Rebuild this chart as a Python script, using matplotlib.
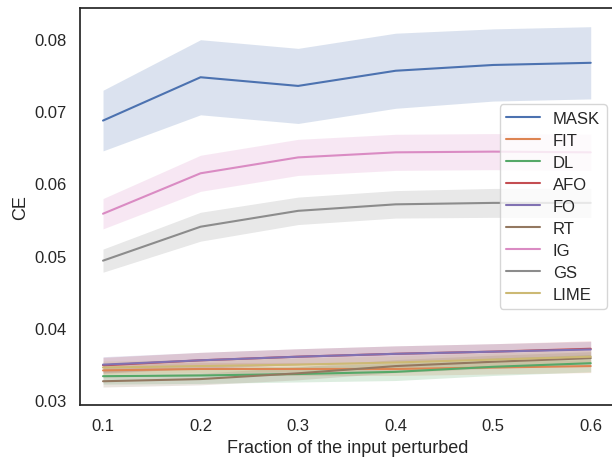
import matplotlib
matplotlib.use("Agg")
import matplotlib.pyplot as plt
import seaborn as sns
import numpy as np

fractions = [0.1, 0.2, 0.3, 0.4, 0.5, 0.6]
methods = ["MASK", "FIT", "DL", "AFO", "FO", "RT", "IG", "GS", "LIME"]

mask = [0.0687, 0.0747, 0.0735, 0.0756, 0.0764, 0.0767]
fit = [0.0341, 0.0343, 0.0343, 0.0343, 0.0345, 0.0347]
dl = [0.0333, 0.0334, 0.0336, 0.0339, 0.0346, 0.0351]
afo = [0.0348, 0.0355, 0.0360, 0.0364, 0.0367, 0.0371]
fo = [0.0349, 0.0355, 0.0360, 0.0364, 0.0367, 0.0370]
rt = [0.0326, 0.0329, 0.0337, 0.0347, 0.0353, 0.0358]
ig = [0.0558, 0.0614, 0.0636, 0.0643, 0.0644, 0.0643]
gs = [0.0493, 0.0540, 0.0562, 0.0571, 0.0573, 0.0573]
lime = [0.0345, 0.0347, 0.0349, 0.0352, 0.0356, 0.0360]

# half-width of the confidence bands
mask_ci = [0.0042, 0.0052, 0.0052, 0.0052, 0.0050, 0.0050]
fit_ci = [0.0009, 0.0009, 0.0009, 0.0009, 0.0009, 0.0009]
dl_ci = [0.0011, 0.0011, 0.0011, 0.0012, 0.0012, 0.0012]
afo_ci = [0.0011, 0.0011, 0.0011, 0.0011, 0.0011, 0.0011]
fo_ci = [0.0011, 0.0011, 0.0011, 0.0011, 0.0011, 0.0011]
rt_ci = [0.0008, 0.0008, 0.0009, 0.0009, 0.0009, 0.0009]
ig_ci = [0.0021, 0.0025, 0.0025, 0.0025, 0.0025, 0.0025]
gs_ci = [0.0016, 0.0020, 0.0019, 0.0019, 0.0020, 0.0020]
lime_ci = [0.0009, 0.0009, 0.0009, 0.0009, 0.0009, 0.0009]

values = [mask, fit, dl, afo, fo, rt, ig, gs, lime]
cis = [mask_ci, fit_ci, dl_ci, afo_ci, fo_ci, rt_ci, ig_ci, gs_ci, lime_ci]

sns.set_theme(style="white")
plt.rcParams["font.family"] = ["Liberation Sans", "DejaVu Sans"]

colors = sns.color_palette("deep", 10)

fig = plt.figure(figsize=(6.12, 4.60), dpi=100)
ax = fig.add_axes([80 / 612, 54 / 460, 535 / 612, 397 / 460])

x = np.array(fractions)
for name, v, c, col in zip(methods, values, cis, colors):
    v = np.array(v)
    c = np.array(c)
    ax.fill_between(x, v - c, v + c, color=col, alpha=0.2, linewidth=0)
    ax.plot(x, v, color=col, linewidth=1.5, label=name)

ax.set_xlim(0.0764, 0.6249)
ax.set_ylim(0.02931, 0.08429)
ax.set_xticks(fractions)
ax.set_xticklabels(["0.1", "0.2", "0.3", "0.4", "0.5", "0.6"])
ax.set_yticks([0.03, 0.04, 0.05, 0.06, 0.07, 0.08])
ax.set_yticklabels(["0.03", "0.04", "0.05", "0.06", "0.07", "0.08"])
ax.tick_params(labelsize=12)
ax.set_xlabel("Fraction of the input perturbed", fontsize=13)
ax.set_ylabel("CE", fontsize=13)
ax.legend(loc="center right", fontsize=12, labelspacing=0.42)

fig.savefig("out.png", dpi=100)
